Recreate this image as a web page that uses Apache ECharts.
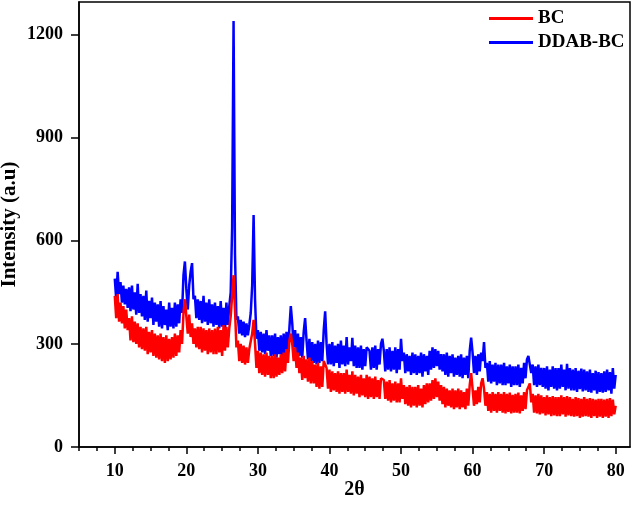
<!DOCTYPE html>
<html>
<head>
<meta charset="utf-8">
<script src="https://cdn.jsdelivr.net/npm/echarts@6/dist/echarts.min.js"></script>
<style>
  html, body { margin: 0; padding: 0; background: #fff; }
  #chart { width: 633px; height: 505px; }
</style>
</head>
<body>
<div id="chart"></div>
<script>
// 2θ grid: 10 → 80 in 0.2° steps (351 points)
const angleStart = 10
const angleStep = 0.2

const seriesNames = ['BC', 'DDAB-BC']

// DDAB-BC intensity, rows of 2°
const ddabBc = [
  490, 430, 510, 445, 480, 420, 470, 415, 460, 405,
  465, 395, 470, 400, 450, 385, 475, 390, 445, 380,
  440, 370, 455, 365, 425, 375, 435, 355, 420, 365,
  415, 350, 425, 345, 410, 355, 400, 340, 420, 350,
  405, 345, 420, 350, 415, 360, 430, 390, 500, 540,
  460, 400, 470, 510, 535, 430, 440, 375, 430, 370,
  425, 360, 440, 365, 420, 355, 430, 360, 415, 350,
  420, 355, 410, 345, 425, 350, 405, 340, 420, 355,
  410, 450, 640, 1240, 560, 370, 380, 330, 370, 325,
  365, 320, 360, 325, 355, 390, 470, 675, 430, 315,
  340, 280, 335, 275, 330, 270, 340, 280, 325, 265,
  325, 265, 330, 260, 320, 270, 325, 255, 330, 265,
  335, 275, 345, 410, 360, 290, 340, 270, 330, 265,
  320, 260, 335, 375, 310, 255, 315, 250, 305, 245,
  300, 240, 310, 245, 305, 250, 340, 395, 300, 240,
  300, 240, 305, 235, 295, 245, 300, 230, 310, 240,
  295, 235, 320, 240, 290, 250, 318, 235, 295, 230,
  290, 230, 295, 225, 285, 235, 290, 288, 280, 225,
  290, 230, 295, 225, 285, 240, 300, 315, 280, 220,
  285, 225, 290, 220, 280, 225, 290, 215, 285, 225,
  315, 250, 275, 215, 270, 220, 265, 210, 275, 215,
  270, 210, 265, 215, 275, 205, 270, 220, 265, 210,
  280, 225, 290, 230, 285, 235, 280, 225, 270, 220,
  270, 210, 275, 205, 265, 215, 270, 205, 260, 210,
  265, 205, 270, 200, 260, 210, 265, 200, 280, 318,
  275, 215, 265, 210, 270, 220, 275, 250, 305, 230,
  245, 190, 250, 185, 240, 190, 245, 180, 240, 185,
  240, 180, 245, 180, 235, 185, 240, 175, 235, 180,
  235, 180, 240, 175, 230, 185, 245, 200, 255, 265,
  262, 215, 240, 180, 235, 175, 240, 180, 230, 175,
  230, 170, 235, 165, 225, 175, 235, 170, 230, 165,
  230, 170, 240, 175, 225, 165, 242, 170, 230, 165,
  225, 165, 230, 160, 222, 168, 228, 162, 225, 165,
  220, 160, 225, 158, 215, 165, 222, 155, 218, 160,
  215, 158, 220, 160, 225, 165, 218, 155, 230, 170,
  210
]

// BC intensity, rows of 2°
const bc = [
  440, 375, 445, 365, 420, 360, 410, 345, 400, 340,
  375, 310, 380, 305, 365, 300, 360, 290, 350, 285,
  345, 280, 350, 270, 335, 275, 340, 265, 330, 260,
  325, 255, 330, 250, 320, 245, 325, 250, 315, 255,
  320, 260, 330, 265, 325, 275, 340, 300, 390, 430,
  380, 330, 385, 320, 360, 300, 345, 290, 350, 285,
  350, 275, 345, 280, 340, 270, 345, 275, 340, 270,
  345, 270, 350, 275, 340, 265, 355, 280, 350, 290,
  345, 380, 440, 500, 400, 290, 310, 250, 300, 245,
  295, 240, 290, 245, 285, 290, 330, 370, 300, 230,
  280, 215, 275, 210, 270, 205, 275, 210, 265, 200,
  265, 200, 270, 205, 260, 210, 270, 215, 275, 220,
  285, 245, 310, 330, 300, 250, 290, 230, 275, 215,
  260, 195, 265, 200, 255, 190, 260, 185, 250, 185,
  240, 175, 245, 170, 235, 175, 250, 240, 230, 170,
  225, 160, 220, 165, 215, 160, 220, 155, 215, 160,
  215, 155, 225, 160, 210, 155, 220, 150, 210, 155,
  205, 145, 210, 150, 200, 145, 210, 140, 205, 145,
  200, 140, 205, 145, 195, 140, 200, 195, 195, 140,
  190, 135, 195, 130, 185, 135, 190, 130, 185, 130,
  200, 140, 180, 125, 175, 120, 180, 115, 175, 120,
  175, 115, 180, 120, 170, 115, 180, 125, 185, 130,
  185, 135, 195, 140, 200, 145, 190, 135, 180, 125,
  175, 115, 170, 120, 165, 115, 170, 110, 165, 115,
  170, 110, 165, 115, 160, 110, 170, 120, 180, 215,
  170, 120, 165, 125, 175, 130, 185, 200, 170, 120,
  160, 105, 155, 100, 160, 105, 155, 100, 160, 105,
  155, 100, 160, 98, 155, 102, 158, 98, 152, 100,
  155, 100, 158, 98, 150, 105, 160, 110, 165, 175,
  185, 130, 155, 100, 150, 98, 155, 95, 150, 98,
  145, 92, 150, 95, 145, 90, 148, 92, 145, 90,
  145, 90, 150, 95, 145, 88, 148, 92, 145, 90,
  140, 88, 145, 90, 142, 85, 140, 88, 145, 90,
  140, 88, 142, 85, 140, 90, 138, 85, 140, 88,
  140, 85, 138, 88, 140, 85, 142, 90, 138, 95,
  120
]

const xMajorTicks = [10, 20, 30, 40, 50, 60, 70, 80]
const xMinorTicks = [5, 7.5, 12.5, 15, 17.5, 22.5, 25, 27.5, 32.5, 35, 37.5, 42.5, 45, 47.5,
  52.5, 55, 57.5, 62.5, 65, 67.5, 72.5, 75, 77.5]
const yTicks = [0, 300, 600, 900, 1200]

const font = 'Liberation Serif'

function toPairs(values) {
  return values.map((v, i) => [+(angleStart + i * angleStep).toFixed(1), v])
}

const chart = echarts.init(document.getElementById('chart'))

const axisLine = { show: true, lineStyle: { color: '#000', width: 1.5 } }
const labelStyle = { fontFamily: font, fontWeight: 'bold', fontSize: 18, color: '#000' }

chart.setOption({
  animation: false,
  backgroundColor: '#fff',
  grid: {
    left: 79, right: 3, top: 2, bottom: 58,
    containLabel: false,
    outerBoundsMode: 'none',
    show: true, borderColor: '#000', borderWidth: 1.5, backgroundColor: 'transparent'
  },
  legend: {
    data: seriesNames,
    orient: 'vertical',
    left: 489,
    top: 9,
    padding: 0,
    itemWidth: 44,
    itemHeight: 3,
    itemGap: 5,
    icon: 'rect',
    textStyle: { fontFamily: font, fontWeight: 'bold', fontSize: 19, color: '#000' }
  },
  xAxis: [
    {
      type: 'value',
      min: 5,
      max: 82,
      name: '2θ',
      nameLocation: 'middle',
      nameGap: 33,
      nameMoveOverlap: false,
      nameTextStyle: { fontFamily: font, fontWeight: 'bold', fontSize: 20, color: '#000' },
      axisLine: axisLine,
      axisTick: { show: true, length: 7, lineStyle: { color: '#000', width: 1.5 }, customValues: xMajorTicks },
      axisLabel: Object.assign({ customValues: xMajorTicks, margin: 15 }, labelStyle),
      splitLine: { show: false }
    },
    {
      type: 'value',
      position: 'bottom',
      min: 5,
      max: 82,
      axisLine: { show: false },
      axisTick: { show: true, length: 4, lineStyle: { color: '#000', width: 1.5 }, customValues: xMinorTicks },
      axisLabel: { show: false },
      splitLine: { show: false }
    }
  ],
  yAxis: {
    type: 'value',
    min: 0,
    max: 1295,
    name: 'Intensity (a.u)',
    nameLocation: 'middle',
    nameGap: 59,
    nameMoveOverlap: false,
    nameTextStyle: { fontFamily: font, fontWeight: 'bold', fontSize: 21, color: '#000' },
    axisLine: axisLine,
    axisTick: { show: true, length: 8, lineStyle: { color: '#000', width: 1.5 }, customValues: yTicks },
    axisLabel: Object.assign({ customValues: yTicks, margin: 16, formatter: v => String(v) }, labelStyle),
    splitLine: { show: false }
  },
  series: [
    {
      name: 'DDAB-BC',
      type: 'line',
      data: toPairs(ddabBc),
      showSymbol: false,
      symbol: 'none',
      color: '#0000ff',
      lineStyle: { color: '#0000ff', width: 2.5 }
    },
    {
      name: 'BC',
      type: 'line',
      data: toPairs(bc),
      showSymbol: false,
      symbol: 'none',
      color: '#ff0000',
      lineStyle: { color: '#ff0000', width: 2.5 }
    }
  ]
})
</script>
</body>
</html>
